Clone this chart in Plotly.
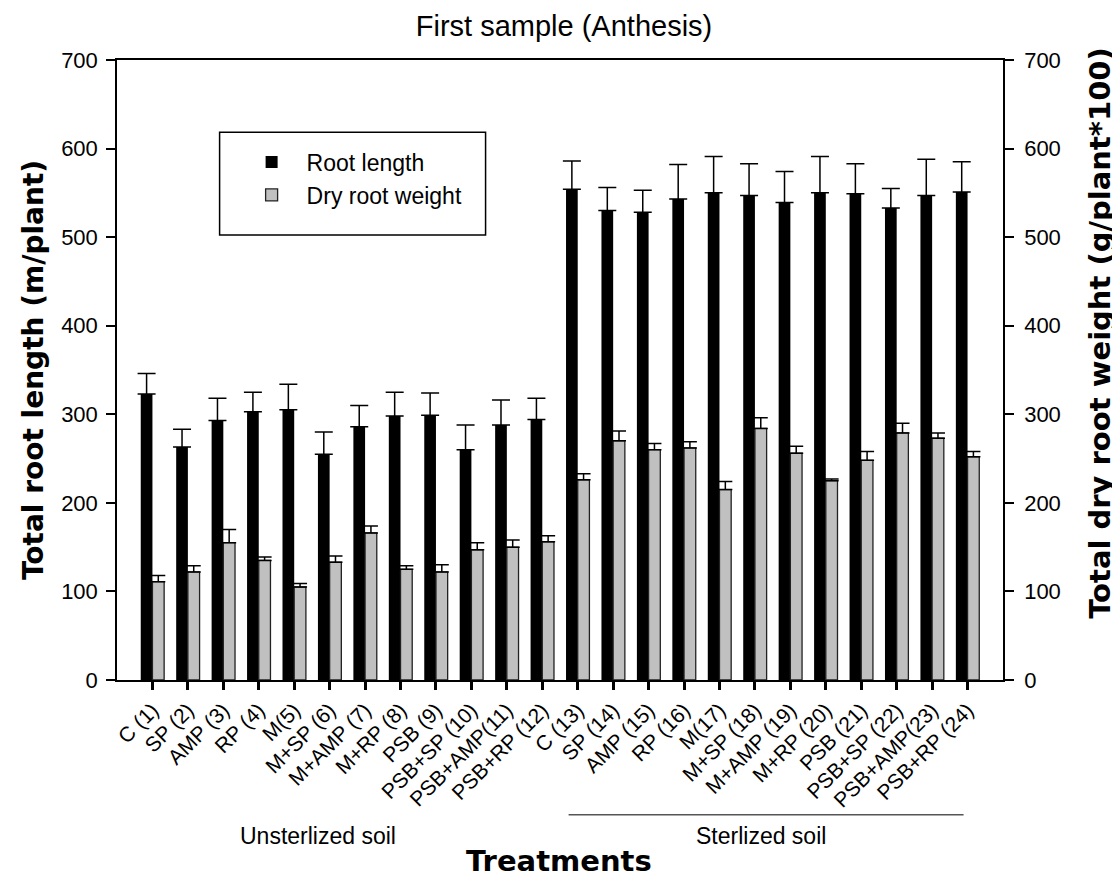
import plotly.graph_objects as go

treatments = ["C (1)", "SP (2)", "AMP (3)", "RP (4)", "M(5)", "M+SP (6)", "M+AMP (7)", "M+RP (8)",
              "PSB (9)", "PSB+SP (10)", "PSB+AMP(11)", "PSB+RP (12)", "C (13)", "SP (14)", "AMP (15)",
              "RP (16)", "M(17)", "M+SP (18)", "M+AMP (19)", "M+RP (20)", "PSB (21)", "PSB+SP (22)",
              "PSB+AMP(23)", "PSB+RP (24)"]
root_length = [323, 263, 293, 303, 305, 255, 286, 298, 299, 260, 288, 294,
               554, 530, 528, 543, 550, 547, 539, 550, 549, 533, 547, 551]
root_length_err = [23, 20, 25, 22, 29, 25, 24, 27, 25, 28, 28, 24,
                   32, 26, 25, 39, 41, 36, 35, 41, 34, 22, 41, 34]
dry_weight = [111, 122, 155, 135, 105, 133, 166, 125, 122, 147, 150, 156,
              226, 270, 260, 262, 215, 284, 256, 225, 248, 279, 273, 252]
dry_weight_err = [7, 7, 15, 4, 4, 7, 8, 4, 8, 8, 8, 7,
                  7, 11, 7, 7, 9, 12, 8, 2, 10, 11, 6, 6]
y_ticks = [0, 100, 200, 300, 400, 500, 600, 700]

FONT = "Liberation Sans, Arial, sans-serif"
BOLD = "DejaVu Sans, Arial, sans-serif"

fig = go.Figure()
fig.add_trace(go.Bar(
    x=treatments, y=root_length, name="Root length",
    width=0.33, offset=-0.33,
    marker=dict(color="black", line=dict(color="black", width=0)),
    error_y=dict(type="data", symmetric=False, array=root_length_err,
                 arrayminus=[0] * len(root_length_err), color="black", thickness=1.5, width=9),
    yaxis="y",
))
fig.add_trace(go.Bar(
    x=treatments, y=dry_weight, name="Dry root weight",
    width=0.33, offset=0.0,
    marker=dict(color="#C0C0C0", line=dict(color="#222222", width=1.3)),
    error_y=dict(type="data", symmetric=False, array=dry_weight_err,
                 arrayminus=[0] * len(dry_weight_err), color="black", thickness=1.5, width=7),
    yaxis="y2",
))

axis_common = dict(range=[0, 700], tickvals=y_ticks, showline=True, linecolor="black", linewidth=1.5,
                   ticks="outside", ticklen=9, tickwidth=1.5, tickcolor="black",
                   tickfont=dict(family=FONT, size=22, color="black"),
                   showgrid=False, zeroline=False)

fig.update_layout(
    width=1112, height=875,
    margin=dict(l=109, r=117, t=52, b=203),
    paper_bgcolor="white", plot_bgcolor="white",
    barmode="overlay",
    title=dict(text="First sample (Anthesis)", x=0.5, xanchor="center", y=0.980, yanchor="middle",
               font=dict(family=FONT, size=29, color="black")),
    xaxis=dict(type="category", range=[-1, 24], showline=True, linecolor="black", linewidth=1.5,
               mirror=True, ticks="outside", ticklen=8, tickwidth=3, tickcolor="black",
               tickangle=-45, tickfont=dict(family=FONT, size=21, color="black"), showgrid=False),
    yaxis=dict(**axis_common, ticklabelstandoff=4,
               title=dict(text="Total root length (m/plant)", standoff=9,
                          font=dict(family=BOLD, size=28, color="black", weight="bold"))),
    yaxis2=dict(**axis_common, overlaying="y", side="right", ticklabelstandoff=6),
    legend=dict(x=0.135, y=0.87, xanchor="left", yanchor="top", bgcolor="rgba(0,0,0,0)",
                borderwidth=0, itemwidth=60,
                font=dict(family=FONT, size=23, color="black")),
    showlegend=True,
    shapes=[
        dict(type="rect", xref="paper", yref="paper", x0=0.1158, x1=0.416, y0=0.7177, y1=0.8834,
             line=dict(color="black", width=1.5), fillcolor="rgba(0,0,0,0)"),
        dict(type="line", xref="paper", yref="paper", x0=0.5097, x1=0.9555, y0=-0.2173, y1=-0.2173,
             line=dict(color="#555555", width=1.5)),
    ],
    annotations=[
        dict(text="Total dry root weight (g/plant*100)", xref="paper", yref="paper",
             x=1.1095, y=0.56, textangle=-90, xanchor="center", yanchor="middle", showarrow=False,
             font=dict(family=BOLD, size=29, color="black", weight="bold")),
        dict(text="Unsterlized soil", xref="paper", yref="paper", x=0.2266, y=-0.2516,
             xanchor="center", yanchor="middle", showarrow=False,
             font=dict(family=FONT, size=23, color="black")),
        dict(text="Sterlized soil", xref="paper", yref="paper", x=0.727, y=-0.2516,
             xanchor="center", yanchor="middle", showarrow=False,
             font=dict(family=FONT, size=23, color="black")),
        dict(text="Treatments", xref="paper", yref="paper", x=0.4993, y=-0.292,
             xanchor="center", yanchor="middle", showarrow=False,
             font=dict(family=BOLD, size=29, color="black", weight="bold")),
    ],
)

fig.write_html("out.html")
